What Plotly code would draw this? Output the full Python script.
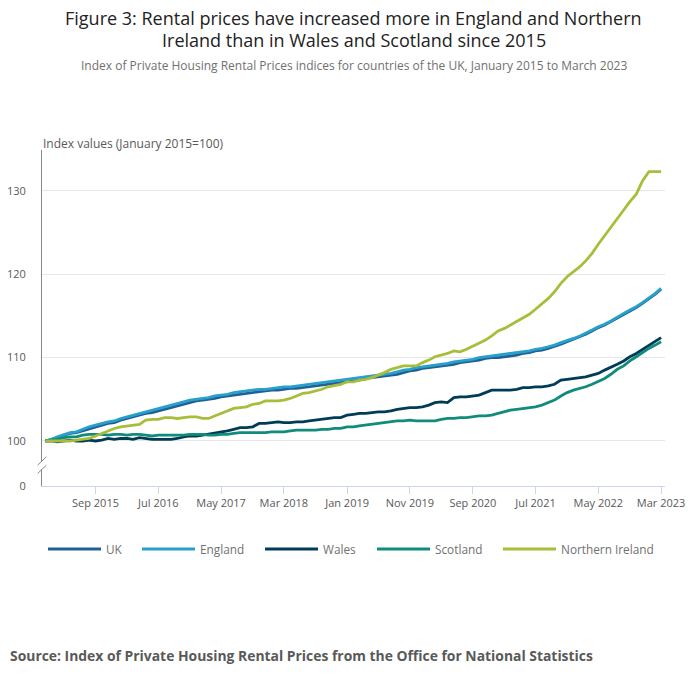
import pandas as pd
import plotly.graph_objects as go

# Monthly dates, January 2015 to March 2023
dates = pd.date_range('2015-01-01', '2023-03-01', freq='MS')

uk = [
    100.0, 100.2, 100.4, 100.7, 100.9, 101.0, 101.2, 101.5, 101.7, 101.9, 102.1, 102.2,
    102.5, 102.7, 102.9, 103.1, 103.3, 103.4, 103.6, 103.8, 104.0, 104.2, 104.4, 104.6,
    104.8, 104.9, 105.0, 105.1, 105.3, 105.4, 105.5, 105.6, 105.7, 105.8, 105.9, 106.0,
    106.1, 106.1, 106.2, 106.3, 106.3, 106.4, 106.5, 106.6, 106.7, 106.8, 106.9, 107.0,
    107.1, 107.2, 107.3, 107.5, 107.6, 107.7, 107.8, 107.9, 108.0, 108.2, 108.4, 108.5,
    108.7, 108.8, 108.9, 109.0, 109.1, 109.2, 109.4, 109.5, 109.6, 109.7, 109.9, 110.0,
    110.0, 110.1, 110.2, 110.3, 110.5, 110.6, 110.8, 110.9, 111.1, 111.3, 111.6, 111.9,
    112.2, 112.5, 112.8, 113.2, 113.6, 113.9, 114.3, 114.7, 115.2, 115.6, 116.0, 116.5,
    117.0, 117.6, 118.2,
]

england = [
    100.0, 100.2, 100.5, 100.8, 101.0, 101.1, 101.4, 101.7, 101.9, 102.1, 102.3, 102.4,
    102.7, 102.9, 103.1, 103.3, 103.5, 103.7, 103.9, 104.1, 104.3, 104.5, 104.7, 104.9,
    105.0, 105.1, 105.2, 105.4, 105.5, 105.6, 105.8, 105.9, 106.0, 106.1, 106.2, 106.2,
    106.3, 106.4, 106.5, 106.5, 106.6, 106.7, 106.8, 106.9, 107.0, 107.1, 107.2, 107.3,
    107.4, 107.5, 107.6, 107.7, 107.8, 107.9, 108.0, 108.1, 108.3, 108.5, 108.6, 108.8,
    108.9, 109.0, 109.1, 109.2, 109.3, 109.5, 109.6, 109.7, 109.8, 110.0, 110.1, 110.2,
    110.3, 110.4, 110.5, 110.6, 110.7, 110.8, 111.0, 111.1, 111.3, 111.5, 111.8, 112.0,
    112.3, 112.6, 112.9, 113.3, 113.7, 114.0, 114.4, 114.8, 115.3, 115.7, 116.1, 116.6,
    117.1, 117.7, 118.3,
]

wales = [
    100.0, 100.0, 99.9, 100.0, 100.1, 100.0, 100.0, 100.1, 100.0, 100.1, 100.3, 100.2,
    100.3, 100.3, 100.2, 100.4, 100.3, 100.2, 100.2, 100.2, 100.2, 100.3, 100.5, 100.6,
    100.6, 100.7, 100.8, 100.9, 101.0, 101.2, 101.4, 101.6, 101.6, 101.7, 102.1, 102.1,
    102.2, 102.3, 102.2, 102.2, 102.3, 102.3, 102.4, 102.5, 102.6, 102.7, 102.8, 102.8,
    103.1, 103.2, 103.3, 103.3, 103.4, 103.5, 103.5, 103.6, 103.8, 103.9, 104.0, 104.0,
    104.1, 104.3, 104.6, 104.7, 104.6, 105.2, 105.3, 105.3, 105.4, 105.5, 105.8, 106.1,
    106.1, 106.1, 106.1, 106.2, 106.4, 106.4, 106.5, 106.5, 106.6, 106.8, 107.3, 107.4,
    107.5, 107.6, 107.7, 107.9, 108.1, 108.5, 108.8, 109.2, 109.6, 110.1, 110.5, 111.0,
    111.5, 112.0, 112.4,
]

scotland = [
    100.0, 100.1, 100.2, 100.4, 100.5, 100.5, 100.7, 100.8, 100.8, 100.8, 100.7, 100.8,
    100.8, 100.7, 100.8, 100.8, 100.7, 100.6, 100.7, 100.7, 100.7, 100.7, 100.7, 100.8,
    100.8, 100.8, 100.7, 100.7, 100.8, 100.8, 100.9, 101.0, 101.0, 101.0, 101.0, 101.0,
    101.1, 101.1, 101.1, 101.2, 101.3, 101.3, 101.3, 101.3, 101.4, 101.4, 101.5, 101.5,
    101.7, 101.7, 101.8, 101.9, 102.0, 102.1, 102.2, 102.3, 102.4, 102.4, 102.5, 102.4,
    102.4, 102.4, 102.4, 102.6, 102.7, 102.7, 102.8, 102.8, 102.9, 103.0, 103.0, 103.1,
    103.3, 103.5, 103.7, 103.8, 103.9, 104.0, 104.1, 104.3, 104.6, 104.9, 105.4, 105.8,
    106.1, 106.3, 106.5, 106.8, 107.1, 107.5, 108.0, 108.6, 109.0, 109.6, 110.1, 110.6,
    111.1, 111.5, 111.9,
]

northern_ireland = [
    100.0, 100.0, 100.0, 100.0, 100.0, 100.1, 100.2, 100.3, 100.6, 100.9, 101.2, 101.5,
    101.7, 101.8, 101.9, 102.0, 102.5, 102.6, 102.6, 102.8, 102.8, 102.7, 102.8, 102.9,
    102.9, 102.7, 102.7, 103.0, 103.3, 103.6, 103.9, 104.0, 104.1, 104.4, 104.5, 104.8,
    104.8, 104.8, 104.9, 105.1, 105.4, 105.7, 105.8, 106.0, 106.2, 106.5, 106.7, 106.8,
    107.1, 107.1, 107.3, 107.4, 107.6, 107.9, 108.2, 108.6, 108.8, 109.0, 109.0, 109.0,
    109.4, 109.7, 110.1, 110.3, 110.5, 110.8, 110.7, 111.0, 111.4, 111.8, 112.1, 112.6,
    113.2, 113.5, 113.9, 114.3, 114.7, 115.2, 115.8, 116.4, 117.1, 117.9, 118.9, 119.7,
    120.3, 120.9, 121.6, 122.5, 123.6, 124.6, 125.6, 126.6, 127.7, 128.7, 129.6, 131.2,
    132.3, 132.3, 132.3,
]

series_names = ['UK', 'England', 'Wales', 'Scotland', 'Northern Ireland']
series_values = [uk, england, wales, scotland, northern_ireland]
colors = ['#206095', '#27a0cc', '#003c57', '#118c7b', '#a8bd3a']

x_tick_dates = ['2015-09-01', '2016-07-01', '2017-05-01', '2018-03-01', '2019-01-01',
                '2019-11-01', '2020-09-01', '2021-07-01', '2022-05-01', '2023-03-01']
y_tick_vals = [94.6, 100, 110, 120, 130]
y_tick_text = ['0', '100', '110', '120', '130']

# Figure / plot area in pixels
W, H = 700, 682
L, R, T, B = 42, 35, 150, 196


def px_x(px):
    return (px - L) / (W - L - R)


def px_y(py):
    return (H - B - py) / (H - T - B)


fig = go.Figure()
for name, vals, col in zip(series_names, series_values, colors):
    fig.add_trace(go.Scatter(
        x=dates, y=vals, name=name, mode='lines',
        line=dict(color=col, width=2.8), showlegend=False,
        hovertemplate='%{x|%b %Y}<br>' + name + ': %{y:.1f}<extra></extra>'
    ))

annotations = [
    dict(text='Figure 3: Rental prices have increased more in England and Northern',
         x=0.5, xref='paper', y=px_y(18), font=dict(size=18, color='#222222')),
    dict(text='Ireland than in Wales and Scotland since 2015',
         x=0.5, xref='paper', y=px_y(40), font=dict(size=18, color='#222222')),
    dict(text='Index of Private Housing Rental Prices indices for countries of the UK, January 2015 to March 2023',
         x=0.5, xref='paper', y=px_y(65), font=dict(size=12, color='#707070')),
    dict(text='Index values (January 2015=100)', x=px_x(41), xanchor='left',
         y=px_y(143), font=dict(size=12, color='#595959')),
    dict(text='<b>Source: Index of Private Housing Rental Prices from the Office for National Statistics</b>',
         x=px_x(8), xanchor='left', y=px_y(655), font=dict(size=13.9, color='#595959')),
]
for a in annotations:
    a.setdefault('xref', 'paper')
    a.setdefault('xanchor', 'center')
    a.update(yref='paper', yanchor='middle', showarrow=False)

shapes = [
    # axis break
    dict(type='rect', xref='paper', yref='y', x0=-0.004, x1=0.004, y0=96.6, y1=97.5,
         fillcolor='white', line=dict(width=0), layer='above'),
    dict(type='line', xref='paper', yref='y', x0=-0.007, x1=0.007, y0=97.1, y1=98.1,
         line=dict(color='#888888', width=1), layer='above'),
    dict(type='line', xref='paper', yref='y', x0=-0.007, x1=0.007, y0=96.1, y1=97.1,
         line=dict(color='#888888', width=1), layer='above'),
]

# legend drawn by hand so the keys match the reference length
legend_x = [48, 142, 265, 377, 503]
for name, col, lx in zip(series_names, colors, legend_x):
    shapes.append(dict(type='line', xref='paper', yref='paper',
                       x0=px_x(lx), x1=px_x(lx + 53), y0=px_y(549), y1=px_y(549),
                       line=dict(color=col, width=3)))
    annotations.append(dict(text=name, xref='paper', yref='paper', x=px_x(lx + 56),
                            xanchor='left', y=px_y(549), yanchor='middle', showarrow=False,
                            font=dict(size=11.8, color='#707070')))

fig.update_layout(
    width=W, height=H,
    font=dict(family='Open Sans', color='#414042'),
    paper_bgcolor='white', plot_bgcolor='white',
    margin=dict(l=L, r=R, t=T, b=B),
    showlegend=False,
    xaxis=dict(
        type='date', range=['2014-12-16', '2023-03-20'],
        tickvals=x_tick_dates, tickformat='%b %Y', automargin=False,
        showgrid=False, showline=True, linecolor='#ccd6eb', linewidth=1,
        ticks='outside', ticklen=7, tickcolor='#ccd6eb',
        tickfont=dict(size=11, color='#595959'), zeroline=False
    ),
    yaxis=dict(
        range=[94.6, 134.9], tickvals=y_tick_vals, ticktext=y_tick_text,
        automargin=False,
        showgrid=True, gridcolor='#e6e6e6', gridwidth=1,
        showline=True, linecolor='#888888', linewidth=1,
        # invisible ticks push the labels away from the axis
        ticks='outside', ticklen=13, tickcolor='rgba(0,0,0,0)',
        tickfont=dict(size=11, color='#595959'), zeroline=False
    ),
    annotations=annotations,
    shapes=shapes,
)

fig.write_html('out.html', config={'displayModeBar': False},
               post_script="document.body.style.margin='0';")
